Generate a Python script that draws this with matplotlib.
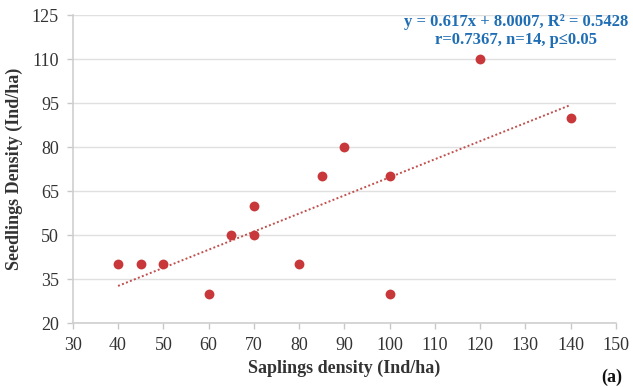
import numpy as np
import matplotlib.pyplot as plt

# data
saplings = [40, 45, 50, 60, 65, 70, 70, 80, 85, 90, 100, 100, 120, 140]
seedlings = [40, 40, 40, 30, 50, 60, 50, 40, 70, 80, 70, 30, 110, 90]
slope, intercept = 0.617, 8.0007
x_ticks = list(range(30, 151, 10))
y_ticks = list(range(20, 126, 15))

plt.rcParams['font.family'] = ['Liberation Serif', 'DejaVu Serif']

fig = plt.figure(figsize=(6.33, 3.87), dpi=100)
ax = fig.add_axes([0.115, 0.165, 0.858, 0.796])

ax.scatter(saplings, seedlings, s=50, color='#c8373a', zorder=3, linewidths=0)

# linear trendline over the data range
xs = np.array([min(saplings), max(saplings)])
ax.plot(xs, slope * xs + intercept, linestyle=(0, (1, 1.2)), color='#c0504d', lw=1.4, zorder=2)

ax.set_xlim(30, 150)
ax.set_ylim(20, 125)
ax.set_xticks(x_ticks)
ax.set_yticks(y_ticks)
ax.tick_params(labelsize=13, length=4, width=1, color='#c8c8c8', labelcolor='#333333')
ax.tick_params(axis='x', pad=6)
ax.tick_params(axis='y', pad=6)
ax.yaxis.grid(True, color='#e0e0e0', lw=1)
ax.set_axisbelow(True)
for side in ['top', 'right']:
    ax.spines[side].set_visible(False)
for side in ['left', 'bottom']:
    ax.spines[side].set_color('#cfcfcf')
    ax.spines[side].set_linewidth(1.2)

ax.set_xlabel('Saplings density (Ind/ha)', fontsize=13, fontweight='bold', color='#333333', labelpad=4)
ax.set_ylabel('Seedlings Density (Ind/ha)', fontsize=13, fontweight='bold', color='#333333', labelpad=6)

fig.text(516 / 633, 1 - 31 / 387, 'y = 0.617x + 8.0007, R² = 0.5428\nr=0.7367, n=14, p≤0.05',
         ha='center', va='center', fontsize=12, fontweight='bold', color='#1f6eb5', linespacing=1.1)
fig.text(612 / 633, 0.002, '(a)', ha='center', va='bottom', fontsize=13, fontweight='bold', color='#111111')

fig.savefig('out.png', dpi=100)
